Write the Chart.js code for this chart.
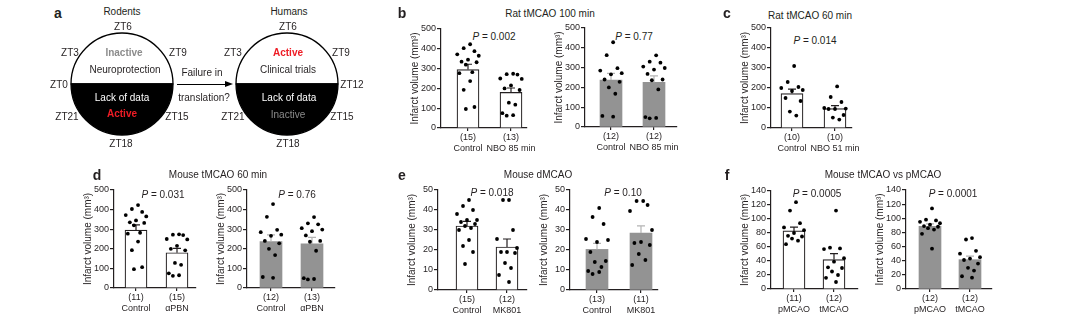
<!DOCTYPE html>
<html>
<head>
<meta charset="utf-8">
<script src="https://cdn.jsdelivr.net/npm/chart.js@4.4.0/dist/chart.umd.min.js"></script>
<style>
  body { margin: 0; background: #fff; width: 1080px; height: 329px; position: relative; overflow: hidden;
         font-family: 'Liberation Sans', Arial, sans-serif; color: #231f20; }
  .box { position: absolute; }
  .t { position: absolute; transform: translate(-50%, -50%); white-space: nowrap; font-size: 10px; line-height: 1; }
  .arrow { position: absolute; border-top: 1.4px solid #000; }
  .head { position: absolute; width: 0; height: 0; border-top: 3.5px solid transparent;
          border-bottom: 3.5px solid transparent; border-left: 8px solid #000; }
</style>
</head>
<body>
<script>
'use strict';

const INK = '#231f20';
const GREY = '#939393';
const GREY_ERR = '#b4b4b4';

// panel a: half day / half night discs
const halves = [1, 1];

// b: rat tMCAO 100 min (panel d shows the same points)
const bLabels = [['(15)', 'Control'], ['(13)', 'NBO 85 min']];
const bMeans = [295, 180];
const bSem = [27, 22];
const bCtrl = [423, 403, 388, 372, 365, 345, 335, 332, 320, 282, 277, 237, 193, 106, 96];
const bNbo = [274, 272, 270, 250, 248, 215, 200, 192, 128, 118, 75, 65, 62];

const b2Labels = [['(12)', 'Control'], ['(12)', 'NBO 85 min']];
const b2Means = [237, 225];
const b2Sem = [34, 33];
const b2Ctrl = [428, 363, 297, 285, 272, 266, 240, 228, 200, 168, 56, 52];
const b2Nbo = [362, 330, 325, 305, 298, 290, 268, 240, 236, 190, 50, 46, 44];

// c: rat tMCAO 60 min
const cLabels = [['(10)', 'Control'], ['(10)', 'NBO 51 min']];
const cMeans = [172, 97];
const cSem = [22, 15];
const cCtrl = [310, 230, 205, 200, 190, 185, 150, 135, 82, 62];
const cNbo = [208, 155, 130, 100, 97, 95, 95, 65, 52, 42];

// d: mouse tMCAO 60 min
const dLabels = [['(11)', 'Control'], ['(15)', 'αPBN']];
const d2Labels = [['(12)', 'Control'], ['(13)', 'αPBN']];

// e: mouse dMCAO
const eLabels = [['(15)', 'Control'], ['(12)', 'MK801']];
const eMeans = [32, 21.5];
const eSem = [2.3, 4];
const eCtrl = [45, 42, 40, 38, 35, 35, 34, 33, 32, 31, 30, 25, 22, 19, 13];
const eMk = [45, 45, 30, 25.5, 21, 19, 19, 18.5, 13.5, 11, 7.5, 4];

const e2Labels = [['(13)', 'Control'], ['(11)', 'MK801']];
const e2Means = [20.3, 28.5];
const e2Sem = [3, 3.6];
const e2Ctrl = [41, 36.5, 33, 25.5, 25, 24, 19, 14.5, 14, 11.5, 9.5, 9, 8];
const e2Mk = [44.5, 44.5, 42.5, 39.5, 30, 24, 23.5, 22.5, 18, 15, 12.5];

// f: mouse tMCAO vs pMCAO
const fLabels = [['(11)', 'pMCAO'], ['(12)', 'tMCAO']];
const fMeans = [83, 42];
const fSem = [5.5, 8.5];
const fP = [124, 112, 94, 88, 84, 80, 76, 75, 72, 69, 64];
const fT = [112, 59, 58, 57, 44, 39, 31, 30, 25, 20, 16, 10];

const f2Labels = [['(12)', 'pMCAO'], ['(12)', 'tMCAO']];
const f2Means = [88.5, 41.5];
const f2Sem = [3.5, 5];
const f2P = [114, 98, 97, 95, 93, 91, 89, 88, 86, 84, 78, 57];
const f2T = [72, 70, 54, 50, 45, 43, 41, 36, 30, 26, 18, 16];

// horizontal scatter of the dots around each bar (category units)
const JITTER = [0.05, -0.1, 0.15, -0.25, 0.25, 0, -0.15, 0.2, -0.05, 0.1, -0.2, 0.05, -0.1, 0.15, -0.05];

Chart.defaults.font.family = "'Liberation Sans', Arial, sans-serif";
Chart.defaults.color = INK;

function addCanvas(left, top, w, h) {
  const div = document.createElement('div');
  div.className = 'box';
  div.style.cssText = `left:${left}px;top:${top}px;width:${w}px;height:${h}px;`;
  const cv = document.createElement('canvas');
  cv.width = w; cv.height = h;
  cv.style.width = w + 'px'; cv.style.height = h + 'px';
  div.appendChild(cv);
  document.body.appendChild(div);
  return cv;
}

function note(html, x, y, style) {
  const el = document.createElement('div');
  el.className = 't';
  el.innerHTML = html;
  el.style.left = x + 'px';
  el.style.top = y + 'px';
  if (style) el.style.cssText += style;
  document.body.appendChild(el);
}

const LETTER = 'font-weight:bold;font-size:14px;';

// one small bar + dots plot. axisX/top/bottom: where the axes sit on the page,
// c0/c1: distance of the two bar centres from the y axis, plotW: x axis length
function barPanel(p) {
  const Y_W = 34, PAD_TOP = 8, X_H = 32, PAD_R = 16;
  const w = Y_W + p.plotW + PAD_R;
  const h = PAD_TOP + (p.bottom - p.top) + X_H;
  const cv = addCanvas(p.axisX - Y_W, p.top - PAD_TOP, w, h);
  const unit = p.c1 - p.c0;

  const points = [];
  p.groups.forEach((vals, g) => vals.forEach((v, k) => points.push({ x: g + JITTER[k % JITTER.length], y: v })));

  const errorBars = {
    id: 'errorBars',
    afterDatasetDraw(chart, args) {
      if (args.index !== 0) return;
      const { ctx, scales: { x, y } } = chart;
      ctx.save();
      ctx.strokeStyle = p.grey ? GREY_ERR : INK;
      ctx.lineWidth = 1.2;
      p.means.forEach((m, i) => {
        const px = x.getPixelForValue(i);
        const y0 = y.getPixelForValue(m);
        const y1 = y.getPixelForValue(m + p.sem[i]);
        ctx.beginPath();
        ctx.moveTo(px, y0); ctx.lineTo(px, y1);
        ctx.moveTo(px - 4, y1); ctx.lineTo(px + 4, y1);
        ctx.stroke();
      });
      ctx.restore();
    },
  };

  return new Chart(cv, {
    type: 'bar',
    data: {
      datasets: [
        {
          type: 'bar',
          data: p.means.map((m, i) => ({ x: i, y: m })),
          backgroundColor: p.grey ? GREY : '#fff',
          borderColor: p.grey ? GREY : INK,
          borderWidth: p.grey ? 0 : 1.2,
          barThickness: 22,
          order: 2,
        },
        {
          type: 'scatter',
          data: points,
          pointRadius: 1.9,
          backgroundColor: '#000',
          borderWidth: 0,
          order: 1,
        },
      ],
    },
    options: {
      responsive: false,
      animation: false,
      events: [],
      layout: { padding: { top: PAD_TOP, right: PAD_R, left: 0, bottom: 0 } },
      plugins: { legend: { display: false }, tooltip: { enabled: false } },
      scales: {
        x: {
          type: 'linear',
          min: -p.c0 / unit,
          max: (p.plotW - p.c0) / unit,
          offset: false,
          afterBuildTicks: (s) => { s.ticks = [{ value: 0 }, { value: 1 }]; },
          afterFit: (s) => { s.height = X_H; },
          ticks: {
            autoSkip: false,
            maxRotation: 0,
            padding: 1,
            color: INK,
            font: { size: 9 },
            callback: (v) => p.labels[v],
          },
          grid: { offset: false, drawOnChartArea: false, tickLength: 3, color: INK, lineWidth: 1.2 },
          border: { color: INK, width: 1.2 },
        },
        y: {
          min: 0,
          max: p.yMax,
          afterFit: (s) => { s.width = Y_W; },
          ticks: { stepSize: p.yStep, padding: 1, color: INK, font: { size: 9 } },
          grid: { drawOnChartArea: false, tickLength: 4, color: INK, lineWidth: 1.2 },
          border: { color: INK, width: 1.2 },
          title: {
            display: true,
            text: 'Infarct volume (mm³)',
            color: INK,
            font: { size: 10 },
            padding: { top: 2, bottom: 0 },
          },
        },
      },
    },
    plugins: [errorBars],
  });
}

function disc(cx, cy, r) {
  const size = 2 * r + 6;
  const cv = addCanvas(cx - size / 2, cy - size / 2, size, size);
  return new Chart(cv, {
    type: 'pie',
    data: {
      datasets: [{
        data: halves,
        backgroundColor: ['#fff', '#000'],
        borderColor: '#000',
        borderWidth: 1.3,
      }],
    },
    options: {
      responsive: false,
      animation: false,
      events: [],
      rotation: -90,
      radius: r,
      layout: { padding: 0 },
      plugins: { legend: { display: false }, tooltip: { enabled: false } },
    },
  });
}

// ---- panel a
disc(122, 84, 51);
disc(287, 84, 51);

const arrow = document.createElement('div');
arrow.className = 'arrow';
arrow.style.cssText += 'left:177px;top:84px;width:49px;';
document.body.appendChild(arrow);
const head = document.createElement('div');
head.className = 'head';
head.style.cssText += 'left:225px;top:81.3px;';
document.body.appendChild(head);

note('a', 58, 13, LETTER);
note('Rodents', 122, 12);
note('Humans', 289, 12);
note('ZT6', 123, 27); note('ZT3', 70, 53); note('ZT9', 178, 53); note('ZT0', 59, 85);
note('ZT21', 67, 117); note('ZT15', 177, 117); note('ZT18', 121, 144);
note('ZT6', 288, 27); note('ZT3', 233, 53); note('ZT9', 341, 53); note('ZT12', 352, 85);
note('ZT21', 233, 117); note('ZT15', 342, 117); note('ZT18', 288, 144);
note('Inactive', 124, 53, 'color:#8c8c8c;font-weight:bold;');
note('Neuroprotection', 125, 70);
note('Lack of data', 122, 98, 'color:#fff;');
note('Active', 122, 114, 'color:#ee1c25;font-weight:bold;');
note('Active', 288, 53, 'color:#ee1c25;font-weight:bold;');
note('Clinical trials', 288, 70);
note('Lack of data', 289, 98, 'color:#fff;');
note('Inactive', 288, 115, 'color:#8c8c8c;');
note('Failure in', 202, 73);
note('translation?', 204, 98);

// ---- panel b
note('b', 402, 13, LETTER);
note('Rat tMCAO 100 min', 550, 14);
note('<i>P</i> = 0.002', 494, 37);
note('<i>P</i> = 0.77', 634, 37);
barPanel({ axisX: 441, top: 29, bottom: 128, c0: 27, c1: 70, plotW: 86, labels: bLabels, means: bMeans, sem: bSem, groups: [bCtrl, bNbo], yMax: 500, yStep: 100 });
barPanel({ axisX: 585, top: 28, bottom: 127, c0: 26, c1: 69, plotW: 92, labels: b2Labels, means: b2Means, sem: b2Sem, groups: [b2Ctrl, b2Nbo], yMax: 500, yStep: 100, grey: true });

// ---- panel c
note('c', 727, 13, LETTER);
note('Rat tMCAO 60 min', 810, 16);
note('<i>P</i> = 0.014', 815, 41);
barPanel({ axisX: 771, top: 28, bottom: 128, c0: 21, c1: 64, plotW: 81, labels: cLabels, means: cMeans, sem: cSem, groups: [cCtrl, cNbo], yMax: 500, yStep: 100 });

// ---- panel d
note('d', 97, 175, LETTER);
note('Mouse tMCAO 60 min', 218, 175);
note('<i>P</i> = 0.031', 163, 195);
note('<i>P</i> = 0.76', 297, 195);
barPanel({ axisX: 114, top: 190, bottom: 288, c0: 22, c1: 63, plotW: 82, labels: dLabels, means: bMeans, sem: bSem, groups: [bCtrl, bNbo], yMax: 500, yStep: 100 });
barPanel({ axisX: 247, top: 190, bottom: 288, c0: 24, c1: 65, plotW: 88, labels: d2Labels, means: b2Means, sem: b2Sem, groups: [b2Ctrl, b2Nbo], yMax: 500, yStep: 100, grey: true });

// ---- panel e
note('e', 402, 175, LETTER);
note('Mouse dMCAO', 538, 175);
note('<i>P</i> = 0.018', 492, 193);
note('<i>P</i> = 0.10', 623, 193);
barPanel({ axisX: 438, top: 190, bottom: 290, c0: 29, c1: 69, plotW: 89, labels: eLabels, means: eMeans, sem: eSem, groups: [eCtrl, eMk], yMax: 50, yStep: 10 });
barPanel({ axisX: 570, top: 190, bottom: 290, c0: 27, c1: 71, plotW: 88, labels: e2Labels, means: e2Means, sem: e2Sem, groups: [e2Ctrl, e2Mk], yMax: 50, yStep: 10, grey: true });

// ---- panel f
note('f', 727, 175, LETTER);
note('Mouse tMCAO vs pMCAO', 883, 175);
note('<i>P</i> = 0.0005', 817, 194);
note('<i>P</i> = 0.0001', 953, 194);
barPanel({ axisX: 771, top: 191, bottom: 289, c0: 23, c1: 63, plotW: 87, labels: fLabels, means: fMeans, sem: fSem, groups: [fP, fT], yMax: 140, yStep: 20 });
barPanel({ axisX: 906, top: 190, bottom: 289, c0: 24, c1: 64, plotW: 86, labels: f2Labels, means: f2Means, sem: f2Sem, groups: [f2P, f2T], yMax: 140, yStep: 20, grey: true });
</script>
</body>
</html>
